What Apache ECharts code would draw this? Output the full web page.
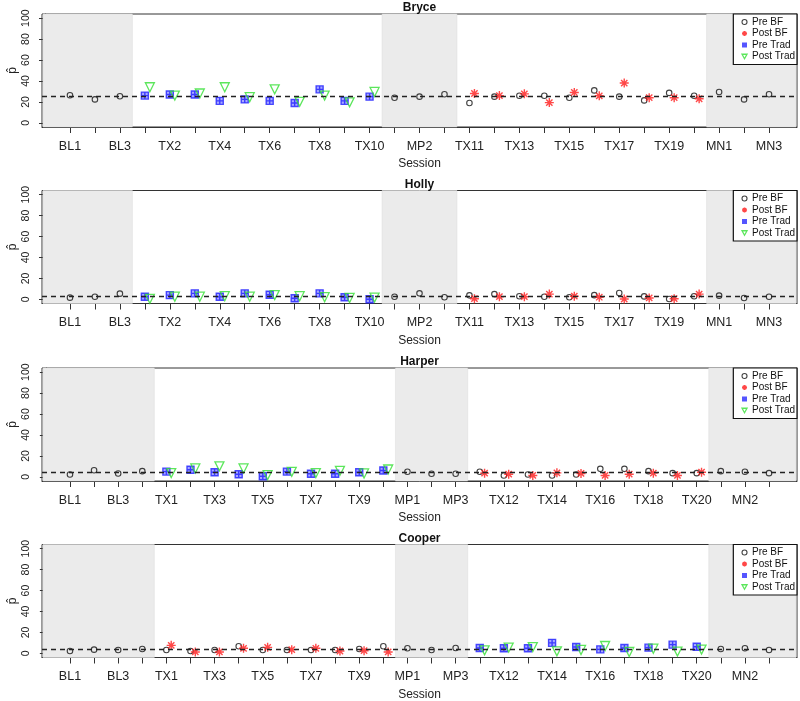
<!DOCTYPE html>
<html><head><meta charset="utf-8">
<script src="https://cdn.jsdelivr.net/npm/echarts@6/dist/echarts.min.js"></script>
<style>html,body{margin:0;padding:0;background:#fff}#c{width:800px;height:701px}</style>
</head><body><div id="c"></div>
<script>
// Session tick labels
const sessionsA = ['BL1','BL2','BL3','TX1','TX2','TX3','TX4','TX5','TX6','TX7','TX8','TX9','TX10','MP1','MP2','MP3','TX11','TX12','TX13','TX14','TX15','TX16','TX17','TX18','TX19','TX20','MN1','MN2','MN3'];
const sessionsB = ['BL1','BL2','BL3','BL4','TX1','TX2','TX3','TX4','TX5','TX6','TX7','TX8','TX9','TX10','MP1','MP2','MP3','TX11','TX12','TX13','TX14','TX15','TX16','TX17','TX18','TX19','TX20','MN1','MN2','MN3'];
const yTicks = [0, 20, 40, 60, 80, 100];
const participants = ['Bryce', 'Holly', 'Harper', 'Cooper'];
const firstPhase = ['Trad', 'Trad', 'Trad', 'BF'];
const cutoffs = [25, 2.5, 4.5, 3.5];

// Bryce
const bryceBL = [26.4, 22.4, 25.4];
const bryceP1Pre = [26, 27, 27, 21, 22.4, 21, 19, 32, 21, 25];
const bryceP1Post = [34, 26, 28, 34, 24.5, 32, 20, 26, 19.5, 29.5];
const bryceMP = [24, 25, 27.3];
const bryceP2Pre = [19, 25, 25.8, 25.8, 24, 31, 25, 21.4, 28.6, 25.8];
const bryceP2Post = [28, 26, 27.7, 19.3, 29, 25.8, 38, 24, 24, 23];
const bryceMN = [29.5, 22.4, 27.3];
// Holly
const hollyBL = [1.6, 2.5, 5.4];
const hollyP1Pre = [2.5, 4, 5.7, 2.5, 5.7, 4.4, 1, 5.7, 2, 0];
const hollyP1Post = [0.5, 2.5, 2.5, 3, 2.5, 4, 3, 2, 1.3, 1.6];
const hollyMP = [2.5, 5.7, 2];
const hollyP2Pre = [3.8, 5, 3, 2.5, 2, 4, 6, 2.8, 0.3, 3];
const hollyP2Post = [0.6, 2.5, 2.5, 5, 3, 2, 0.3, 1.3, 0.6, 5];
const hollyMN = [3.5, 1.3, 2.5];
// Harper
const harperBL = [2.2, 6.3, 3.2, 5.4];
const harperP1Pre = [5, 6.7, 4.4, 2.5, 0.6, 5, 2.9, 2.9, 4.4, 6];
const harperP1Post = [3.5, 8, 10, 8, 1.6, 4.8, 3.5, 5.7, 3.2, 7];
const harperMP = [4.8, 2.9, 2.9];
const harperP2Pre = [4.8, 1.3, 2.2, 1.3, 2.2, 7.6, 7.6, 5.4, 3.5, 3.5];
const harperP2Post = [3.5, 2.5, 1.3, 3.8, 3.2, 1.3, 2.5, 3.5, 1.3, 4.4];
const harperMN = [5.4, 4.8, 3.5];
// Cooper
const cooperBL = [2.2, 3.5, 3.2, 4.1];
const cooperP1Pre = [3.2, 2.2, 3.2, 6.7, 3.2, 3.2, 3.2, 3.2, 4.1, 6.7];
const cooperP1Post = [7.6, 1.3, 1.3, 4.8, 5.7, 3.5, 4.8, 2.2, 2.5, 1.3];
const cooperMP = [4.8, 3.2, 5.1];
const cooperP2Pre = [5.1, 4.8, 4.8, 10, 6, 3.8, 5.1, 5.4, 8.3, 6.3];
const cooperP2Post = [2.9, 5.4, 6, 1.9, 3.2, 7, 1.3, 4.4, 1.6, 3.5];
const cooperMN = [4.1, 4.8, 3.2];

const allData = [
  [bryceBL, bryceP1Pre, bryceP1Post, bryceMP, bryceP2Pre, bryceP2Post, bryceMN, sessionsA],
  [hollyBL, hollyP1Pre, hollyP1Post, hollyMP, hollyP2Pre, hollyP2Post, hollyMN, sessionsA],
  [harperBL, harperP1Pre, harperP1Post, harperMP, harperP2Pre, harperP2Post, harperMN, sessionsB],
  [cooperBL, cooperP1Pre, cooperP1Post, cooperMP, cooperP2Pre, cooperP2Post, cooperMN, sessionsB]
];

const plotTops = [14, 190.5, 368, 544.5];
const plotH = 113;
const OFF = 0.2;
const FONT = 'Liberation Sans, Arial, sans-serif';

const SYM_AST = 'path://M5,0L5,10M0,5L10,5M1.5,1.5L8.5,8.5M8.5,1.5L1.5,8.5';
const SYM_SQ = 'path://M0,0L10,0L10,10L0,10Z M5,0L5,10 M0,5L10,5';
const SYM_TRI = 'path://M0,0L10,0L5,9Z';

const styPreBF = { color: 'rgba(255,255,255,0)', borderColor: '#111', borderWidth: 1.1 };
const styPostBF = { color: 'rgba(0,0,0,0)', borderColor: '#ff1a1a', borderWidth: 1.4 };
const styPreTrad = { color: 'rgba(40,40,255,0.5)', borderColor: '#1f1fff', borderWidth: 1.4 };
const styPostTrad = { color: 'rgba(0,0,0,0)', borderColor: '#33e033', borderWidth: 1.3 };

const grids = [], xAxes = [], yAxes = [], series = [], legends = [], titles = [];

allData.forEach((d, k) => {
  const [BL, P1Pre, P1Post, MP, P2Pre, P2Post, MN, sess] = d;
  const N = sess.length;
  const pad = (N - 1) * 0.04;
  const xmin = 1 - pad, xmax = N + pad;
  const preBF = [], postBF = [], preTrad = [], postTrad = [];
  let pos = 1;
  BL.forEach(v => { preBF.push([pos++, v]); });
  const p1Start = pos;
  const putPhase = (pre, post, cond, start) => {
    pre.forEach((v, i) => {
      (cond === 'BF' ? preBF : preTrad).push([start + i, v]);
    });
    post.forEach((v, i) => {
      (cond === 'BF' ? postBF : postTrad).push([start + i + OFF, v]);
    });
  };
  const c1 = firstPhase[k], c2 = c1 === 'BF' ? 'Trad' : 'BF';
  putPhase(P1Pre, P1Post, c1, p1Start);
  pos = p1Start + P1Pre.length;
  const mpStart = pos;
  MP.forEach(v => { preBF.push([pos++, v]); });
  const p2Start = pos;
  putPhase(P2Pre, P2Post, c2, p2Start);
  pos = p2Start + P2Pre.length;
  const mnStart = pos;
  MN.forEach(v => { preBF.push([pos++, v]); });

  grids.push({ left: 42, right: 3, top: plotTops[k], height: plotH, show: true, borderColor: '#333', borderWidth: 1, z: 0,
    containLabel: false, outerBoundsMode: 'none' });
  const tickVals = sess.map((s, i) => i + 1);
  const labVals = tickVals.filter(v => v % 2 === 1);
  xAxes.push({
    type: 'value', gridIndex: k, min: xmin, max: xmax,
    axisLine: { show: true, onZero: false, lineStyle: { color: '#333', width: 1 } },
    axisTick: { show: true, customValues: tickVals, length: 6, lineStyle: { color: '#333' } },
    axisLabel: { show: true, customValues: labVals, fontSize: 12.5, color: '#222', fontFamily: FONT, margin: 13,
      formatter: v => sess[Math.round(v) - 1] || '' },
    splitLine: { show: false },
    name: 'Session', nameLocation: 'middle', nameGap: 31, nameMoveOverlap: false,
    nameTextStyle: { fontSize: 12, color: '#222', fontFamily: FONT }
  });
  yAxes.push({
    type: 'value', gridIndex: k, min: -4, max: 104,
    axisLine: { show: true, lineStyle: { color: '#333', width: 1 } },
    axisTick: { show: true, customValues: yTicks, length: 6, lineStyle: { color: '#333' } },
    axisLabel: { show: true, customValues: yTicks, rotate: 90, fontSize: 10.5, color: '#222', fontFamily: FONT, margin: 10 },
    splitLine: { show: false },
    name: 'p\u0302', nameLocation: 'middle', nameRotate: 90, nameGap: 23, nameMoveOverlap: false,
    nameTextStyle: { fontSize: 12, color: '#222', fontFamily: FONT }
  });
  titles.push({
    text: participants[k], left: 419.5, textAlign: 'center', top: plotTops[k] - 12, padding: 0,
    textStyle: { fontSize: 12, fontWeight: 'bold', color: '#111', fontFamily: FONT }
  });
  legends.push({
    data: [
      { name: 'Pre BF', icon: 'circle', itemStyle: styPreBF },
      { name: 'Post BF', icon: SYM_AST, itemStyle: styPostBF },
      { name: 'Pre Trad', icon: 'rect', itemStyle: { color: '#2a2aff', borderWidth: 0 } },
      { name: 'Post Trad', icon: SYM_TRI, itemStyle: styPostTrad }
    ],
    orient: 'vertical', right: 3, top: plotTops[k],
    backgroundColor: '#fff', borderColor: '#111', borderWidth: 1.2,
    padding: [3, 2, 3, 8], itemGap: 1.5, itemWidth: 5, itemHeight: 5,
    textStyle: { fontSize: 10, color: '#111', fontFamily: FONT, lineHeight: 9.5 },
    selectedMode: false
  });
  const inset = 0.04;
  series.push({
    name: '_bg', type: 'scatter', xAxisIndex: k, yAxisIndex: k, data: [[-100, -100]], z: 1, silent: true,
    markArea: { silent: true, itemStyle: { color: '#ebebeb', borderColor: '#dcdcdc', borderWidth: 0.5 },
      data: [
        [{ xAxis: xmin + inset }, { xAxis: p1Start - 0.5 }],
        [{ xAxis: mpStart - 0.5 }, { xAxis: p2Start - 0.5 }],
        [{ xAxis: mnStart - 0.5 }, { xAxis: xmax - inset }]
      ] },
    markLine: { silent: true, symbol: 'none', label: { show: false },
      lineStyle: { color: '#222', type: [5, 4], width: 1.3 },
      data: [{ yAxis: cutoffs[k] }] }
  });
  series.push({ name: 'Pre BF', type: 'scatter', xAxisIndex: k, yAxisIndex: k, data: preBF, z: 3,
    symbol: 'circle', symbolSize: 5.5, itemStyle: styPreBF });
  series.push({ name: 'Post BF', type: 'scatter', xAxisIndex: k, yAxisIndex: k, data: postBF, z: 3,
    symbol: SYM_AST, symbolSize: 9, itemStyle: styPostBF });
  series.push({ name: 'Pre Trad', type: 'scatter', xAxisIndex: k, yAxisIndex: k, data: preTrad, z: 3,
    symbol: SYM_SQ, symbolSize: 7, itemStyle: styPreTrad });
  series.push({ name: 'Post Trad', type: 'scatter', xAxisIndex: k, yAxisIndex: k, data: postTrad, z: 3,
    symbol: SYM_TRI, symbolSize: 9, itemStyle: styPostTrad });
});

const chart = echarts.init(document.getElementById('c'), null, { renderer: 'canvas' });
chart.setOption({
  backgroundColor: '#fff',
  animation: false,
  title: titles,
  legend: legends,
  grid: grids,
  xAxis: xAxes,
  yAxis: yAxes,
  series: series
});
</script>
</body></html>
